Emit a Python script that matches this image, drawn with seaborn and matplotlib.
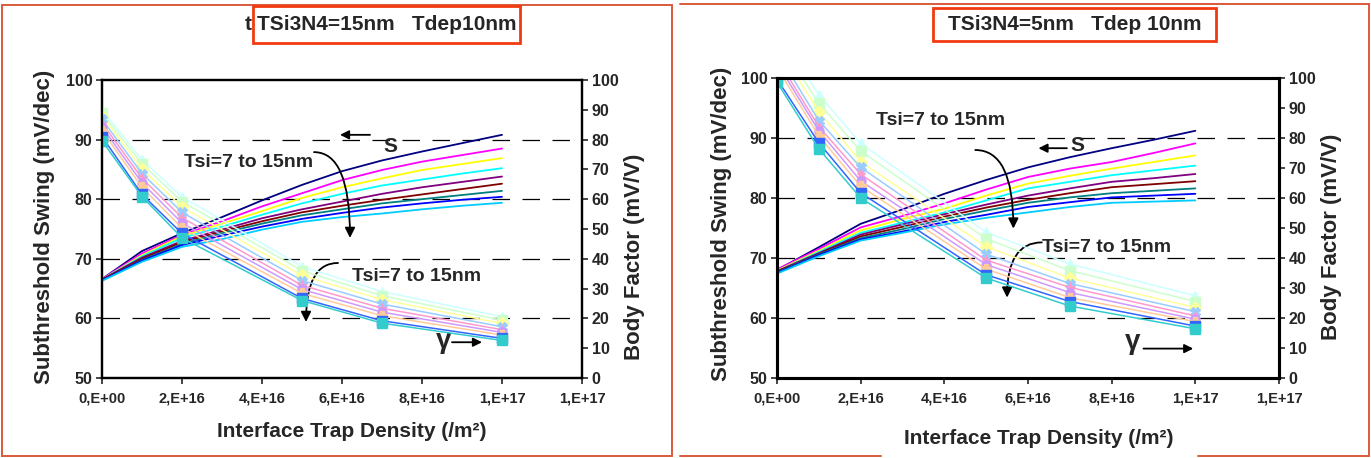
import numpy as np
import pandas as pd
import matplotlib
matplotlib.use("Agg")
import matplotlib.pyplot as plt
import seaborn as sns
from matplotlib.patches import Rectangle
from matplotlib.lines import Line2D

sns.set_style("ticks")
plt.rcParams['font.family'] = ['Liberation Sans', 'DejaVu Sans']
plt.rcParams['font.weight'] = 'bold'
plt.rcParams['axes.labelweight'] = 'bold'

# ---------------- data ----------------
tsi = ['7', '8', '9', '10', '11', '12', '13', '14', '15']
dit_s = [0, 1e16, 2e16, 3e16, 4e16, 5e16, 6e16, 7e16, 8e16, 9e16, 1e17]
dit_g = [0, 1e16, 2e16, 5e16, 7e16, 1e17]
xtick_vals = [0, 2e16, 4e16, 6e16, 8e16, 1e17, 1.2e17]
xtick_labels = ['0,E+00', '2,E+16', '4,E+16', '6,E+16', '8,E+16', '1,E+17', '1,E+17']
s_ticks = [50, 60, 70, 80, 90, 100]
g_ticks = [0, 10, 20, 30, 40, 50, 60, 70, 80, 90, 100]

# Left panel (TSi3N4 = 15 nm) subthreshold swing, mV/dec
S_left = [
    [66.6, 71.3, 74.3, 77.0, 79.8, 82.4, 84.7, 86.5, 88.0, 89.4, 90.8],
    [66.6, 70.9, 74.0, 76.3, 78.8, 81.0, 83.2, 84.9, 86.3, 87.4, 88.5],
    [66.5, 70.6, 73.8, 75.9, 78.0, 80.2, 82.0, 83.5, 84.9, 85.9, 86.9],
    [66.5, 70.4, 73.5, 75.4, 77.4, 79.3, 80.9, 82.3, 83.3, 84.3, 85.2],
    [66.5, 70.2, 73.0, 74.9, 76.8, 78.3, 79.6, 80.9, 82.0, 82.9, 83.8],
    [66.5, 70.0, 72.8, 74.6, 76.3, 77.8, 78.9, 79.9, 80.8, 81.7, 82.6],
    [66.4, 69.8, 72.5, 74.3, 75.9, 77.3, 78.3, 79.3, 80.0, 80.7, 81.4],
    [66.4, 69.7, 72.3, 73.9, 75.4, 76.7, 77.7, 78.6, 79.3, 79.9, 80.4],
    [66.3, 69.5, 72.0, 73.3, 74.9, 76.2, 77.0, 77.6, 78.3, 78.9, 79.4],
]
# Left panel body factor, mV/V
G_left = [
    [90.0, 73.2, 60.8, 37.4, 29.0, 20.6],
    [89.0, 71.8, 59.2, 36.0, 27.6, 19.4],
    [88.0, 70.2, 57.4, 34.4, 26.3, 18.3],
    [86.8, 68.6, 55.6, 32.7, 24.8, 17.2],
    [85.6, 67.0, 53.8, 31.1, 23.4, 16.2],
    [84.3, 65.5, 52.0, 29.7, 22.1, 15.3],
    [83.0, 64.0, 50.3, 28.4, 20.9, 14.4],
    [81.0, 61.6, 48.5, 26.7, 19.2, 13.3],
    [79.6, 60.9, 47.0, 26.0, 18.4, 12.6],
]
# Right panel (TSi3N4 = 5 nm) subthreshold swing
S_right = [
    [68.0, 71.8, 75.7, 78.1, 80.7, 83.0, 85.1, 86.8, 88.3, 89.7, 91.2],
    [68.1, 71.5, 75.1, 77.0, 79.1, 81.4, 83.5, 84.9, 86.0, 87.5, 89.1],
    [67.9, 71.2, 74.6, 76.5, 78.2, 80.4, 82.4, 83.7, 84.9, 86.0, 87.1],
    [67.8, 71.0, 74.2, 75.9, 77.6, 79.6, 81.6, 82.7, 83.8, 84.6, 85.4],
    [67.8, 70.8, 73.9, 75.6, 77.3, 78.9, 80.4, 81.6, 82.7, 83.3, 84.0],
    [67.7, 70.7, 73.6, 75.2, 76.9, 78.4, 79.7, 80.8, 81.8, 82.3, 82.8],
    [67.6, 70.6, 73.3, 74.8, 76.5, 77.9, 79.2, 80.1, 80.8, 81.2, 81.6],
    [67.5, 70.5, 73.1, 74.4, 76.0, 77.2, 78.5, 79.3, 80.1, 80.4, 80.7],
    [67.4, 70.3, 72.9, 74.2, 75.6, 76.7, 77.6, 78.5, 79.2, 79.4, 79.6],
]
# Right panel body factor
G_right = [
    [116.0, 94.4, 78.2, 48.6, 38.0, 27.4],
    [113.0, 91.6, 75.7, 46.4, 35.8, 25.5],
    [111.0, 88.8, 72.1, 43.8, 33.3, 23.5],
    [108.5, 85.8, 70.2, 41.3, 31.5, 22.1],
    [106.5, 83.8, 67.9, 39.3, 30.2, 20.7],
    [105.0, 82.4, 65.7, 37.8, 28.5, 19.6],
    [103.5, 80.7, 63.9, 36.3, 26.8, 18.8],
    [99.6, 78.4, 61.7, 34.4, 25.5, 17.3],
    [98.6, 76.4, 60.0, 33.3, 24.0, 16.4],
]

s_colors = ['#000080', '#FF00FF', '#FFFF00', '#00FFFF', '#800080',
            '#800000', '#008080', '#0000FF', '#00CCFF']
g_colors = ['#CCFFFF', '#CCFFCC', '#FFFF99', '#99CCFF', '#FF99CC',
            '#CC99FF', '#FFCC99', '#3366FF', '#33CCCC']
g_markers = ['^', 's', 'D', 'X', '*', 'o', 'P', 's', 's']

titles = ['TSi3N4=15nm   Tdep10nm', 'TSi3N4=5nm   Tdep 10nm']
ann_text = 'Tsi=7 to 15nm'
xlabel = 'Interface Trap Density (/m\u00b2)'
ylabel_l = 'Subthreshold Swing (mV/dec)'
ylabel_r = 'Body Factor (mV/V)'


def long_df(values, xs, name):
    rows = []
    for t, vals in zip(tsi, values):
        for x, v in zip(xs, vals):
            rows.append({'Dit': x, name: v, 'Tsi': t})
    return pd.DataFrame(rows)


W, H = 1371, 458
fig = plt.figure(figsize=(W / 100, H / 100), dpi=100)


def px_axes(x0, y0, x1, y1):
    return fig.add_axes([x0 / W, 1 - y1 / H, (x1 - x0) / W, (y1 - y0) / H])


s_pal = dict(zip(tsi, s_colors))
g_pal = dict(zip(tsi, g_colors))
g_mk = dict(zip(tsi, g_markers))


def draw_panel(ax, S, G, spine_w, lab_pos):
    ax2 = ax.twinx()
    dfs = long_df(S, dit_s, 'S')
    dfg = long_df(G, dit_g, 'G')
    sns.lineplot(data=dfs, x='Dit', y='S', hue='Tsi', palette=s_pal,
                 hue_order=tsi, ax=ax, legend=False, lw=1.3,
                 estimator=None, sort=False)
    sns.lineplot(data=dfg, x='Dit', y='G', hue='Tsi', style='Tsi',
                 palette=g_pal, hue_order=tsi, style_order=tsi,
                 markers=g_mk, dashes=False, ax=ax2, legend=False, lw=1.1,
                 markersize=6.5, estimator=None, sort=False)
    for ln in ax2.lines:
        ln.set_markeredgecolor(ln.get_color())
        ln.set_markerfacecolor(ln.get_color())
        ln.set_markeredgewidth(1.0)
    ax.set_xlim(0, 1.2e17)
    ax.set_ylim(50, 100)
    ax2.set_ylim(0, 100)
    ax.set_xticks(xtick_vals)
    ax.set_xticklabels(xtick_labels)
    ax.set_yticks(s_ticks)
    ax2.set_yticks(g_ticks)
    ax.tick_params(axis='x', direction='out', length=4, width=1.2,
                   labelsize=10.5, pad=6)
    ax.tick_params(axis='y', direction='out', length=4, width=1.2,
                   labelsize=11.5, pad=3)
    ax2.tick_params(axis='y', direction='out', length=4, width=1.2,
                    labelsize=11.5, pad=3)
    for a in (ax, ax2):
        for sp in a.spines.values():
            sp.set_visible(True)
            sp.set_linewidth(spine_w)
            sp.set_color('black')
    for yv in [60, 70, 80, 90]:
        ax.axhline(yv, color='black', lw=0.9, ls=(0, (14, 10)), zorder=0)
    ax.set_xlabel(xlabel, fontsize=15, fontweight='bold')
    ax.set_ylabel(ylabel_l, fontsize=16, fontweight='bold')
    ax2.set_ylabel(ylabel_r, fontsize=16, fontweight='bold')
    ax.xaxis.set_label_coords(*lab_pos[0])
    ax.yaxis.set_label_coords(*lab_pos[1])
    ax2.yaxis.set_label_coords(*lab_pos[2])
    return ax2


def hook(ax, start, end):
    ax.annotate('', xy=end, xytext=start,
                arrowprops=dict(arrowstyle='-|>', color='black', lw=1.3,
                                connectionstyle='angle3,angleA=0,angleB=90',
                                mutation_scale=15, shrinkA=0, shrinkB=0))


def straight(ax, start, end):
    ax.annotate('', xy=end, xytext=start,
                arrowprops=dict(arrowstyle='-|>', color='black', lw=1.3,
                                mutation_scale=13, shrinkA=0, shrinkB=0))


# ---------- left panel ----------
axL = px_axes(102, 80, 582, 378)
axL2 = draw_panel(axL, S_left, G_left, 1.6,
                  [(0.521, -0.148), (-0.098, 0.507), (1.087, 0.406)])
straight(axL, (6.7e16, 90.8), (5.95e16, 90.8))
axL.text(7.2e16, 88.9, 'S', fontsize=15, ha='center', va='center')
axL.text(2.05e16, 86.2, ann_text, fontsize=14, ha='left', va='center')
hook(axL, (5.3e16, 87.9), (6.2e16, 73.5))
axL.text(6.25e16, 67.0, ann_text, fontsize=14, ha='left', va='center')
hook(axL, (5.9e16, 69.3), (5.1e16, 59.4))
axL.text(8.55e16, 56.2, '\u03b3', fontsize=20, ha='center', va='center')
straight(axL, (8.75e16, 56.0), (9.5e16, 56.0))

# ---------- right panel ----------
axR = px_axes(777, 78, 1279, 378)
axR2 = draw_panel(axR, S_right, G_right, 2.2,
                  [(0.522, -0.17), (-0.0896, 0.513), (1.084, 0.47)])
axR.text(2.37e16, 93.0, ann_text, fontsize=14, ha='left', va='center')
hook(axR, (4.74e16, 88.0), (5.65e16, 74.9))
straight(axR, (6.93e16, 88.3), (6.25e16, 88.3))
axR.text(7.17e16, 88.8, 'S', fontsize=15, ha='center', va='center')
axR.text(6.33e16, 71.8, ann_text, fontsize=14, ha='left', va='center')
hook(axR, (6.33e16, 72.6), (5.5e16, 63.4))
axR.text(8.49e16, 56.0, '\u03b3', fontsize=20, ha='center', va='center')
straight(axR, (8.76e16, 54.9), (9.95e16, 54.9))

# ---------- titles and frames ----------
def frect(x0, y0, x1, y1, color, lw):
    fig.add_artist(Rectangle((x0 / W, 1 - y1 / H), (x1 - x0) / W, (y1 - y0) / H,
                             transform=fig.transFigure, fill=False,
                             ec=color, lw=lw))


def fline(xs, ys, color, lw):
    fig.add_artist(Line2D([x / W for x in xs], [1 - y / H for y in ys],
                          transform=fig.transFigure, color=color, lw=lw))


frame_c = '#DC5A3C'
box_c = '#F23A12'
frect(2, 5, 672, 456, frame_c, 1.4)
fline([680, 1369], [4, 4], frame_c, 1.4)
fline([1369, 1369], [4, 456], frame_c, 1.4)
fline([680, 881], [456, 456], frame_c, 1.4)
fline([1198, 1369], [456, 456], frame_c, 1.4)

frect(253, 6, 520, 43, box_c, 2.0)
fig.text(387 / W, 1 - 25 / H, titles[0], fontsize=15, ha='center', va='center')
fig.text(248 / W, 1 - 25 / H, 't', fontsize=15, ha='center', va='center')
frect(933, 8, 1216, 41, box_c, 2.0)
fig.text(1075 / W, 1 - 24 / H, titles[1], fontsize=15, ha='center', va='center')

fig.savefig('out.png', dpi=100)
